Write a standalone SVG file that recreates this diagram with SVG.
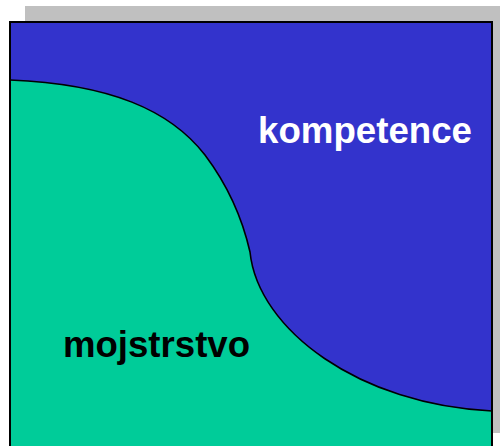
<svg xmlns="http://www.w3.org/2000/svg" width="500" height="446" viewBox="0 0 500 446">
  <style>
    .lbl { font-family: "Liberation Sans", Arial, sans-serif; font-weight: bold; font-size: 37px; }
  </style>
  <rect id="shadow" x="25" y="6" width="475" height="427" fill="#c0c0c0"/>
  <rect id="box" x="10" y="22" width="482" height="440" fill="#3333cc"/>
  <path id="green" d="M10,80 C110,84 170,110 205,155 C235,195 245,230 250,252 C258,330 360,405 492,411 L492,462 L10,462 Z" fill="#00cc99"/>
  <path id="curve" d="M10,80 C110,84 170,110 205,155 C235,195 245,230 250,252 C258,330 360,405 492,411" fill="none" stroke="#000" stroke-width="1.6"/>
  <rect id="border" x="10" y="22" width="482" height="440" fill="none" stroke="#000" stroke-width="2"/>
  <g id="kompetence"><text class="lbl" x="258" y="143" fill="#ffffff" textLength="214" lengthAdjust="spacingAndGlyphs">kompetence</text></g>
  <g id="mojstrstvo"><text class="lbl" x="63" y="357" fill="#000000" textLength="187" lengthAdjust="spacingAndGlyphs">mojstrstvo</text></g>
</svg>
